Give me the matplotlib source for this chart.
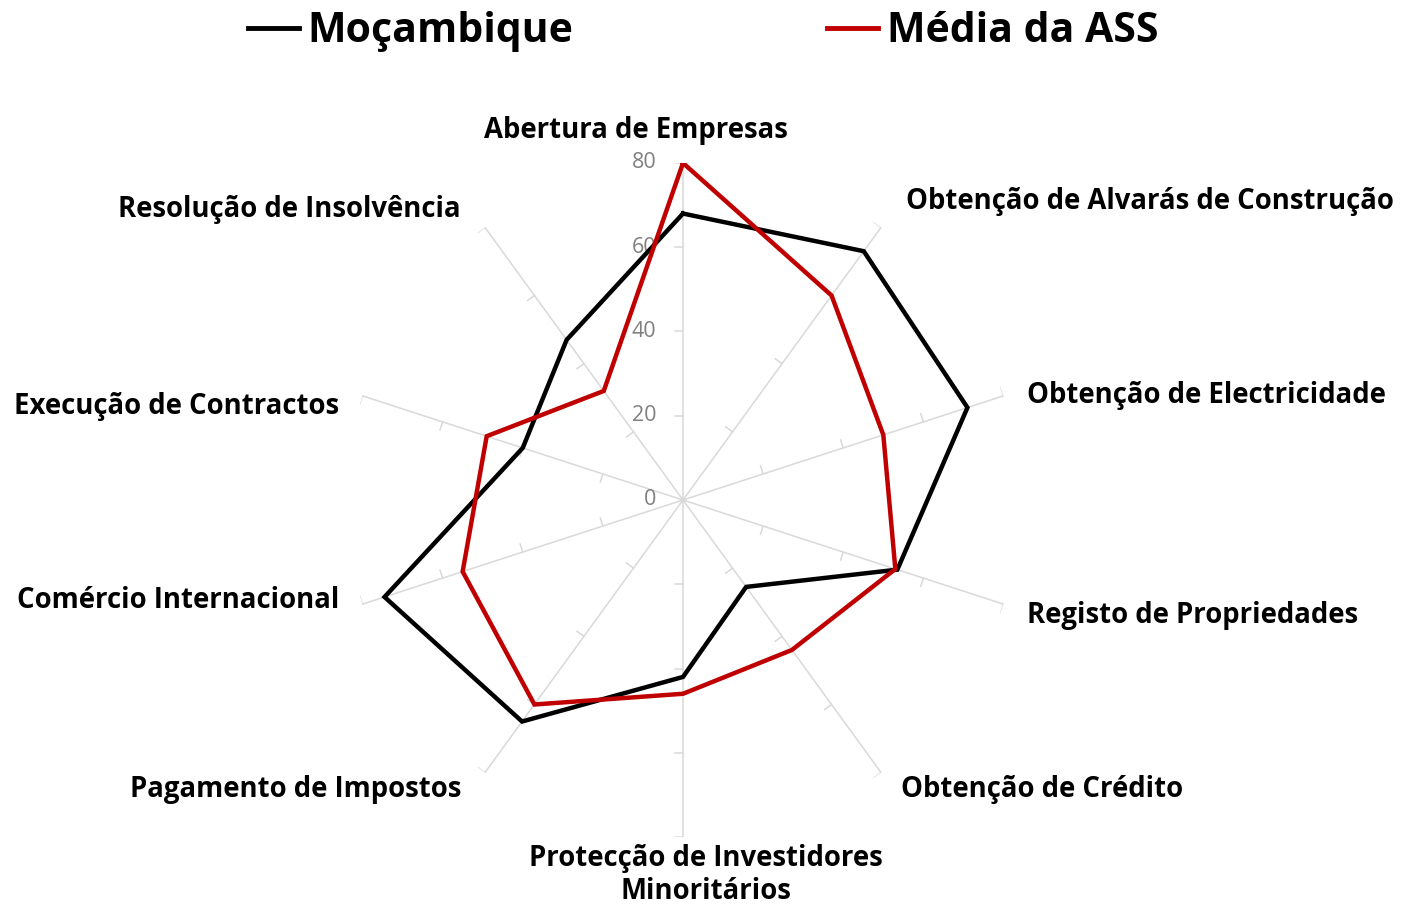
import numpy as np
import matplotlib.pyplot as plt
from matplotlib.lines import Line2D

plt.rcParams['font.family'] = ['Open Sans', 'DejaVu Sans']

# Doing Business indicators (scores) - Mozambique vs Sub-Saharan Africa average
categories = [
    "Abertura de Empresas",
    "Obtenção de Alvarás de Construção",
    "Obtenção de Electricidade",
    "Registo de Propriedades",
    "Obtenção de Crédito",
    "Protecção de Investidores\nMinoritários",
    "Pagamento de Impostos",
    "Comércio Internacional",
    "Execução de Contractos",
    "Resolução de Insolvência",
]
mocambique = [68, 73, 71, 53.5, 25.5, 42, 65, 74.5, 40, 47]
media_ass = [80, 60, 50, 53, 44, 46, 60, 55, 49, 32]
radial_ticks = [0, 20, 40, 60, 80]
series_names = ["Moçambique", "Média da ASS"]

W, H = 1402, 906
fig = plt.figure(figsize=(W / 100, H / 100), dpi=100)

# chart centre at (683, 500) px, radius 337 px for 80
cx, cy, R = 683, 500, 337
ax = fig.add_axes([(cx - R) / W, (H - cy - R) / H, 2 * R / W, 2 * R / H], polar=True)
ax.set_theta_offset(np.pi / 2)
ax.set_theta_direction(-1)
ax.set_ylim(0, 80)
ax.grid(False)
ax.spines['polar'].set_visible(False)
ax.set_xticks([])
ax.set_yticks([])
ax.patch.set_alpha(0)

n = len(categories)
theta = np.arange(n) * 2 * np.pi / n

# spokes with small tick marks
for t in theta:
    ax.plot([t, t], [0, 80], color='#d9d9d9', lw=1.1, zorder=1)
    side = -1 if np.cos(t) > 0 else 1
    for r in radial_ticks[1:]:
        d = np.arctan(2.0 / r)
        ax.plot([t, t + side * d], [r, r / np.cos(d)], color='#d9d9d9', lw=1.1, zorder=1)

# radial value labels along the top spoke
for r in radial_ticks:
    ax.annotate(str(r), xy=(0, r), xytext=(-19, 0), textcoords='offset points',
                ha='right', va='center', fontsize=15.5, color='#808080')

th_closed = np.append(theta, theta[0])
ax.plot(th_closed, mocambique + mocambique[:1], color='black', lw=3.2, zorder=3,
        solid_joinstyle='miter')
ax.plot(th_closed, media_ass + media_ass[:1], color='#c00000', lw=3.2, zorder=4,
        solid_joinstyle='miter')

# category labels (pixel positions, alignment)
label_pos = [
    (636, 130, 'center'),
    (906, 202, 'left'),
    (1027, 395, 'left'),
    (1027, 615, 'left'),
    (901, 789, 'left'),
    (706, 875, 'center'),
    (461, 789, 'right'),
    (339, 601, 'right'),
    (339, 406, 'right'),
    (461, 210, 'right'),
]
for name, (x, y, ha) in zip(categories, label_pos):
    fig.text(x / W, 1 - y / H, name, ha=ha, va='center', fontsize=19.8,
             fontweight='bold', linespacing=1.2, multialignment='center')

handles = [Line2D([], [], color='black', lw=3.5),
           Line2D([], [], color='#c00000', lw=3.5)]
fig.legend(handles, series_names, loc='center', bbox_to_anchor=(703 / W, 1 - 32 / H),
           ncol=2, frameon=False, prop={'size': 29.5, 'weight': 'bold'},
           handlelength=1.25, handletextpad=0.2, columnspacing=6.2, borderpad=0)

fig.savefig("out.png", dpi=100)
